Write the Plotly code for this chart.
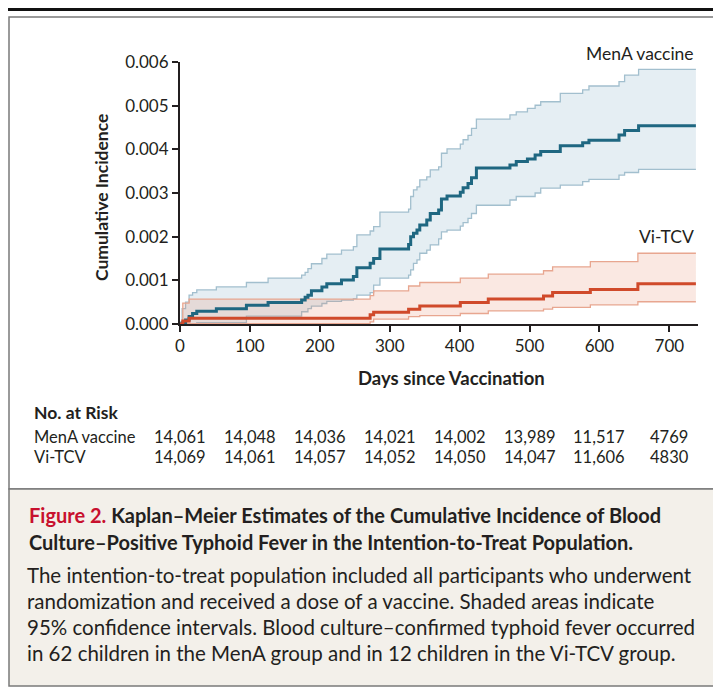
import plotly.graph_objects as go

# ---------------- data ----------------
mena_days = [0, 3, 8, 13, 18, 24, 52, 95, 126, 174, 179, 183, 188, 203, 210, 231, 248, 253, 272, 277,
             286, 327, 330, 334, 339, 343, 353, 358, 370, 374, 382, 401, 405, 412, 417, 424, 472, 481,
             497, 508, 516, 544, 576, 585, 628, 636, 656, 738]
mena_est = [0, 0.00003, 0.00009, 0.00017, 0.00024, 0.00029, 0.00035, 0.00043, 0.00049, 0.00055, 0.00061,
            0.00066, 0.00076, 0.00085, 0.00092, 0.00101, 0.00109, 0.00129, 0.00139, 0.00150, 0.00172,
            0.00182, 0.00200, 0.00208, 0.00215, 0.00227, 0.00238, 0.00253, 0.00261, 0.00286, 0.00293,
            0.00302, 0.00312, 0.00322, 0.00335, 0.00357, 0.00364, 0.00372, 0.00378, 0.00387, 0.00395,
            0.00408, 0.00415, 0.00421, 0.00433, 0.00443, 0.00454, 0.00454]
mena_upper = [0, 0.00035, 0.00050, 0.00066, 0.00072, 0.00078, 0.00085, 0.00095, 0.00105, 0.00112, 0.00118,
              0.00127, 0.00138, 0.00150, 0.00160, 0.00169, 0.00177, 0.00204, 0.00213, 0.00223, 0.00256,
              0.00263, 0.00292, 0.00307, 0.00314, 0.00330, 0.00337, 0.00353, 0.00360, 0.00391, 0.00401,
              0.00412, 0.00422, 0.00432, 0.00448, 0.00469, 0.00479, 0.00486, 0.00494, 0.00501, 0.00509,
              0.00528, 0.00536, 0.00545, 0.00555, 0.00570, 0.00583, 0.00583]
mena_lower = [0, 0, 0, 0, 0, 0.00003, 0.00003, 0.00018, 0.00018, 0.00028, 0.00028, 0.00035, 0.00041,
              0.00047, 0.00052, 0.00055, 0.00058, 0.00066, 0.00072, 0.00089, 0.00105, 0.00112, 0.00124,
              0.00139, 0.00147, 0.00162, 0.00169, 0.00181, 0.00195, 0.00211, 0.00215, 0.00224, 0.00232,
              0.00242, 0.00253, 0.00272, 0.00284, 0.00292, 0.00292, 0.00300, 0.00311, 0.00318, 0.00326,
              0.00331, 0.00341, 0.00347, 0.00354, 0.00354]

vi_days = [0, 4, 13, 272, 277, 327, 343, 401, 441, 520, 533, 587, 655, 738]
vi_est = [0, 0.00007, 0.00013, 0.00021, 0.00027, 0.00034, 0.00041, 0.00049, 0.00057, 0.00064, 0.00072,
          0.00079, 0.00092, 0.00092]
vi_upper = [0, 0.00048, 0.00057, 0.00065, 0.00076, 0.00087, 0.00095, 0.00105, 0.00114, 0.00122, 0.00131,
            0.00143, 0.00162, 0.00162]
vi_lower = [0, 0, 0.00001, 0.00005, 0.00011, 0.00017, 0.00019, 0.00024, 0.00030, 0.00034, 0.00038,
            0.00044, 0.00051, 0.00051]

x_ticks = [0, 100, 200, 300, 400, 500, 600, 700]
y_ticks = [0.000, 0.001, 0.002, 0.003, 0.004, 0.005, 0.006]
risk_days = [0, 100, 200, 300, 400, 500, 600, 700]
risk_mena = ["14,061", "14,048", "14,036", "14,021", "14,002", "13,989", "11,517", "4769"]
risk_vi = ["14,069", "14,061", "14,057", "14,052", "14,050", "14,047", "11,606", "4830"]

# ---------------- styling ----------------
FONT = "Lato"
TXT = "#231f20"
MENA = "#1f6781"
MENA_CI = "#a2bfce"
MENA_FILL = "#e5eef3"
VI = "#d04a2b"
VI_CI = "#e8a690"
VI_FILL = "rgba(232,140,110,0.20)"

# the page body has an 8px margin; the figure is sized so that it fills the rest of the window
OFF = 8
WIDTH, HEIGHT = 721 - OFF, 688 - OFF
L, R, T, B = 180 - OFF, 23, 62 - OFF, 364
PW = WIDTH - L - R
PH = HEIGHT - T - B


def px(x):  # window pixel -> paper x
    return (x - OFF - L) / PW


def py(y):  # window pixel -> paper y
    return (HEIGHT - B - (y - OFF)) / PH


fig = go.Figure()

# confidence bands
fig.add_trace(go.Scatter(x=mena_days, y=mena_upper, mode="lines", line=dict(color=MENA_CI, width=1.3, shape="hv"),
                         hoverinfo="skip"))
fig.add_trace(go.Scatter(x=mena_days, y=mena_lower, mode="lines", line=dict(color=MENA_CI, width=1.3, shape="hv"),
                         fill="tonexty", fillcolor=MENA_FILL, hoverinfo="skip"))
fig.add_trace(go.Scatter(x=vi_days, y=vi_upper, mode="lines", line=dict(color=VI_CI, width=1.3, shape="hv"),
                         hoverinfo="skip"))
fig.add_trace(go.Scatter(x=vi_days, y=vi_lower, mode="lines", line=dict(color=VI_CI, width=1.3, shape="hv"),
                         fill="tonexty", fillcolor=VI_FILL, hoverinfo="skip"))
# estimates
fig.add_trace(go.Scatter(x=mena_days, y=mena_est, mode="lines", line=dict(color=MENA, width=3, shape="hv"),
                         name="MenA vaccine"))
fig.add_trace(go.Scatter(x=vi_days, y=vi_est, mode="lines", line=dict(color=VI, width=3, shape="hv"),
                         name="Vi-TCV"))

shapes = [
    # chart panel
    dict(type="rect", xref="paper", yref="paper", x0=px(9), x1=px(717), y0=py(489), y1=py(17),
         line=dict(color="#7a7a7a", width=1.5), fillcolor="white", layer="below"),
    # caption panel
    dict(type="rect", xref="paper", yref="paper", x0=px(9), x1=px(717), y0=py(686), y1=py(489),
         line=dict(color="#7a7a7a", width=1.5), fillcolor="#f3f0ea", layer="below"),
    # top rule
    dict(type="line", xref="paper", yref="paper", x0=px(8), x1=px(721), y0=py(9.5), y1=py(9.5),
         line=dict(color="#111111", width=3)),
]

ann = []


def add_text(text, x, y, size, xanchor="left", bold=False, color=TXT, xref="paper", angle=0):
    ann.append(dict(text=("<b>%s</b>" % text) if bold else text, x=x, y=py(y), xref=xref, yref="paper",
                    xanchor=xanchor, yanchor="middle", showarrow=False, textangle=angle,
                    font=dict(family=FONT, size=size, color=color)))


add_text("MenA vaccine", px(696), 53, 17.5, xanchor="right")
add_text("Vi-TCV", px(696), 236, 17.5, xanchor="right")
add_text("Cumulative Incidence", px(101), 198, 17.5, xanchor="center", bold=True, angle=-90)
add_text("Days since Vaccination", px(451), 378, 18.5, xanchor="center", bold=True)

add_text("No. at Risk", px(32), 412, 17.5, bold=True)
add_text("MenA vaccine", px(32), 437, 16.5)
add_text("Vi-TCV", px(32), 457, 16.5)
for d, a, b in zip(risk_days, risk_mena, risk_vi):
    add_text(a, d, 437, 16.5, xanchor="center", xref="x")
    add_text(b, d, 457, 16.5, xanchor="center", xref="x")

add_text("<span style='color:#c8102e'>Figure 2.</span> Kaplan\u2013Meier Estimates of the Cumulative Incidence of Blood",
         px(27), 515, 20, bold=True)
add_text("Culture\u2013Positive Typhoid Fever in the Intention-to-Treat Population.", px(27), 542, 20, bold=True)
body = [
    "The intention-to-treat population included all participants who underwent",
    "randomization and received a dose of a vaccine. Shaded areas indicate",
    "95% confidence intervals. Blood culture\u2013confirmed typhoid fever occurred",
    "in 62 children in the MenA group and in 12 children in the Vi-TCV group.",
]
for i, line in enumerate(body):
    add_text(line, px(25), 575 + 26 * i, 20.5)

fig.update_layout(
    width=WIDTH, height=HEIGHT,
    margin=dict(l=L, r=R, t=T, b=B),
    paper_bgcolor="white", plot_bgcolor="rgba(0,0,0,0)",
    showlegend=False,
    shapes=shapes, annotations=ann,
    xaxis=dict(range=[0, 741], tickvals=x_ticks, showgrid=False, zeroline=False, showline=True,
               linecolor="#231f20", linewidth=2, ticks="outside", ticklen=6, tickwidth=2, tickcolor="#231f20",
               tickfont=dict(family=FONT, size=17, color=TXT)),
    yaxis=dict(range=[0, 0.006], tickvals=y_ticks, tickformat=".3f", showgrid=False, zeroline=False,
               showline=True, linecolor="#231f20", linewidth=2, ticks="outside", ticklen=6, tickwidth=2,
               tickcolor="#231f20", tickfont=dict(family=FONT, size=17, color=TXT)),
)

fig.write_html("out.html")
